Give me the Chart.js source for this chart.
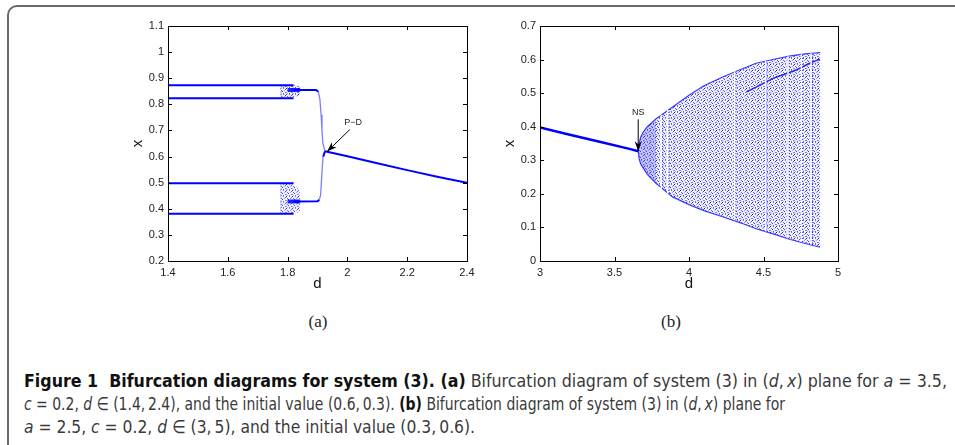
<!DOCTYPE html>
<html>
<head>
<meta charset="utf-8">
<script src="https://cdn.jsdelivr.net/npm/chart.js@4.4.0/dist/chart.umd.min.js"></script>
<style>
  body { margin: 0; width: 955px; height: 445px; overflow: hidden; background: #fff; position: relative; }
  #frame { position: absolute; left: 7px; top: 5px; width: 1000px; height: 520px; border: 2px solid #6a6a6a; border-radius: 10px; box-sizing: border-box; }
  canvas { position: absolute; }
  #chartA { left: 100px; top: 10px; }
  #chartB { left: 470px; top: 10px; }
  .sub { position: absolute; top: 312px; font: 17px "Liberation Serif", "DejaVu Serif", serif; color: #222; transform: translateX(-50%); }
  .cap { position: absolute; left: 24px; white-space: nowrap; font: 18px/18px "Liberation Sans Narrow", "DejaVu Sans Condensed", "Liberation Sans", sans-serif; color: #3a3a3a; transform-origin: 0 0; }
  .cap b { color: #111; }
</style>
</head>
<body>
<div id="frame"></div>
<canvas id="chartA" width="380" height="290"></canvas>
<canvas id="chartB" width="390" height="290"></canvas>
<div class="sub" style="left:318px">(a)</div>
<div class="sub" style="left:671px">(b)</div>
<div class="cap" data-w="923" style="top:372px"><b>Figure 1&nbsp;&nbsp;Bifurcation diagrams for system (3). (a)</b> Bifurcation diagram of system (3) in (<i>d</i>,&thinsp;<i>x</i>) plane for <i>a</i> = 3.5,</div>
<div class="cap" data-w="761" style="top:395px"><i>c</i> = 0.2, <i>d</i> ∈ (1.4,&thinsp;2.4), and the initial value (0.6,&thinsp;0.3). <b>(b)</b> Bifurcation diagram of system (3) in (<i>d</i>,&thinsp;<i>x</i>) plane for</div>
<div class="cap" data-w="451" style="top:418px"><i>a</i> = 2.5, <i>c</i> = 0.2, <i>d</i> ∈ (3,&thinsp;5), and the initial value (0.3,&thinsp;0.6).</div>
<script>
// ---- panel (a): d in (1.4, 2.4) ----
const aXTicks = [1.4, 1.6, 1.8, 2, 2.2, 2.4];
const aYTicks = [0.2, 0.3, 0.4, 0.5, 0.6, 0.7, 0.8, 0.9, 1, 1.1];
// period-4 orbit levels, flat from 1.4 to 1.82
const aP4Span = [1.4, 1.82];
const aP4Levels = [0.873, 0.823, 0.498, 0.381];
// period-2 branches merging at the P-D point
const aUpD = [1.82, 1.895, 1.903, 1.908, 1.912, 1.915, 1.918, 1.925];
const aUpX = [0.855, 0.855, 0.848, 0.82, 0.76, 0.70, 0.65, 0.62];
const aLoD = [1.82, 1.900, 1.906, 1.910, 1.913, 1.916, 1.919, 1.925];
const aLoX = [0.428, 0.429, 0.435, 0.45, 0.50, 0.56, 0.60, 0.62];
// fixed point after the P-D bifurcation
const aTailD = [1.925, 2.0, 2.1, 2.2, 2.3, 2.4];
const aTailX = [0.62, 0.601, 0.574, 0.548, 0.523, 0.5];
// scattered transition clouds near d = 1.8
const aCloudD = [1.776, 1.79, 1.81, 1.83, 1.842];
const aCloudUpTop = [0.873, 0.873, 0.873, 0.872, 0.868];
const aCloudUpBot = [0.823, 0.823, 0.825, 0.83, 0.84];
const aCloudLoTop = [0.498, 0.498, 0.496, 0.485, 0.46];
const aCloudLoBot = [0.381, 0.381, 0.381, 0.384, 0.39];
const aBandD = [1.80, 1.842];
const aBandLevels = [0.855, 0.428];
const aEdgeD = 1.778;

// ---- panel (b): d in (3, 5) ----
const bXTicks = [3, 3.5, 4, 4.5, 5];
const bYTicks = [0, 0.1, 0.2, 0.3, 0.4, 0.5, 0.6, 0.7];
const bLineD = [3, 3.2, 3.4, 3.6, 3.66];
const bLineX = [0.398, 0.376, 0.355, 0.334, 0.327];
// envelope of the invariant circle after the NS bifurcation
const bEnvD = [3.66, 3.665, 3.675, 3.69, 3.72, 3.78, 3.89, 4.0, 4.1, 4.23, 4.35, 4.45, 4.57, 4.68, 4.78, 4.88];
const bEnvUp = [0.327, 0.35, 0.368, 0.382, 0.40, 0.424, 0.459, 0.494, 0.522, 0.549, 0.571, 0.589, 0.601, 0.611, 0.617, 0.621];
const bEnvLo = [0.327, 0.305, 0.29, 0.279, 0.258, 0.231, 0.191, 0.168, 0.150, 0.131, 0.113, 0.096, 0.080, 0.064, 0.052, 0.041];
// denser region near the tip
const bTipD = [3.66, 3.665, 3.675, 3.69, 3.72, 3.78];
const bTipUp = [0.327, 0.35, 0.368, 0.382, 0.40, 0.424];
const bTipLo = [0.327, 0.305, 0.29, 0.279, 0.258, 0.231];
// periodic windows (gaps)
const bWinD = [3.815, 3.858, 4.307, 4.515, 4.665, 4.755, 4.82];
const bWinLo = [0.215, 0.20, 0.121, 0.088, 0.068, 0.057, 0.050];
const bWinHi = [0.435, 0.45, 0.565, 0.596, 0.610, 0.616, 0.619];
// inner dense curve
const bInnerD = [4.386, 4.45, 4.564, 4.65, 4.72, 4.81, 4.866, 4.88];
const bInnerX = [0.504, 0.518, 0.544, 0.558, 0.569, 0.589, 0.599, 0.60];

const BLUE = '#0000ff';
const pts = (ds, xs) => ds.map((d, i) => ({ x: d, y: xs[i] }));
const flat = (span, v) => span.map(d => ({ x: d, y: v }));
const vert = (d, lo, hi) => [{ x: d, y: lo }, { x: d, y: hi }];

// dotted texture for the scattered orbit points
function dots(alpha) {
  const c = document.createElement('canvas');
  c.width = 6; c.height = 6;
  const g = c.getContext('2d');
  g.fillStyle = `rgba(60,60,255,${0.07 * alpha})`;
  g.fillRect(0, 0, 6, 6);
  const cells = [[0, 0, .9], [3, 0, .5], [5, 1, .7], [1, 2, .6], [4, 2, .35], [2, 3, .8], [0, 4, .45], [5, 4, .55], [3, 5, .65], [1, 5, .3]];
  cells.forEach(([x, y, a]) => { g.fillStyle = `rgba(0,0,255,${a * alpha})`; g.fillRect(x, y, 1, 1); });
  return g.createPattern(c, 'repeat');
}

function line(data, extra) {
  return Object.assign({ data, showLine: true, pointRadius: 0, borderColor: BLUE, borderWidth: 2, tension: 0, fill: false }, extra || {});
}

// earlier datasets are painted first (at the back)
function ordered(sets) {
  sets.forEach((s, i) => { s.order = sets.length - i; });
  return sets;
}

const steepSeg = {
  borderColor: c => Math.abs(c.p1.y - c.p0.y) > 3 * Math.abs(c.p1.x - c.p0.x) ? 'rgba(40,40,255,0.6)' : BLUE,
  borderWidth: c => Math.abs(c.p1.y - c.p0.y) > 3 * Math.abs(c.p1.x - c.p0.x) ? 1.3 : 2
};

const aSets = ordered([
  line(pts(aCloudD, aCloudUpTop), { borderWidth: 0, fill: '+1', backgroundColor: dots(1) }),
  line(pts(aCloudD, aCloudUpBot), { borderWidth: 0 }),
  line(pts(aCloudD, aCloudLoTop), { borderWidth: 0, fill: '+1', backgroundColor: dots(0.9) }),
  line(pts(aCloudD, aCloudLoBot), { borderWidth: 0 }),
  line(vert(aEdgeD, aCloudUpBot[0], aCloudUpTop[0]), { borderWidth: 1, borderDash: [1, 2], borderColor: 'rgba(0,0,255,0.7)' }),
  line(vert(aEdgeD, aCloudLoBot[0], aCloudLoTop[0]), { borderWidth: 1, borderDash: [1, 2], borderColor: 'rgba(0,0,255,0.7)' }),
  ...aP4Levels.map(v => line(flat(aP4Span, v))),
  ...aBandLevels.map(v => line(flat(aBandD, v), { borderWidth: 4, borderColor: 'rgba(0,0,255,0.85)' })),
  line(pts(aUpD, aUpX), { segment: steepSeg }),
  line(pts(aLoD, aLoX), { segment: steepSeg }),
  line(pts(aTailD, aTailX))
]);

const bSets = ordered([
  line(pts(bEnvD, bEnvUp), { borderWidth: 1.2, borderColor: 'rgba(0,0,255,0.75)', fill: '+1', backgroundColor: dots(1) }),
  line(pts(bEnvD, bEnvLo), { borderWidth: 1.2, borderColor: 'rgba(0,0,255,0.75)' }),
  line(pts(bTipD, bTipUp), { borderWidth: 0, fill: '+1', backgroundColor: 'rgba(40,40,255,0.22)' }),
  line(pts(bTipD, bTipLo), { borderWidth: 0 }),
  line(pts(bInnerD, bInnerX), { borderWidth: 1.5, borderColor: 'rgba(0,0,230,0.8)' }),
  ...bWinD.map((d, i) => line(vert(d, bWinLo[i], bWinHi[i]), { borderColor: '#fff', borderWidth: 1.6 })),
  ...bWinD.map((d, i) => line(vert(d + 0.008, bWinLo[i], bWinHi[i]), { borderColor: 'rgba(0,0,230,0.85)', borderWidth: 1, borderDash: [1, 2] })),
  line(pts(bLineD, bLineX), { borderWidth: 2.5 })
]);

// MATLAB-like box with inward ticks, axis titles and arrow notes
const boxPlugin = {
  id: 'mbox',
  afterDraw(chart, args, opts) {
    const { ctx, chartArea: a, scales: { x, y } } = chart;
    ctx.save();
    ctx.strokeStyle = '#000';
    ctx.lineWidth = 1;
    ctx.setLineDash([]);
    ctx.strokeRect(Math.round(a.left) + 0.5, Math.round(a.top) + 0.5, Math.round(a.right - a.left), Math.round(a.bottom - a.top));
    ctx.beginPath();
    x.ticks.forEach(t => {
      const px = Math.round(x.getPixelForValue(t.value)) + 0.5;
      ctx.moveTo(px, a.bottom); ctx.lineTo(px, a.bottom - 4);
      ctx.moveTo(px, a.top); ctx.lineTo(px, a.top + 4);
    });
    y.ticks.forEach(t => {
      const py = Math.round(y.getPixelForValue(t.value)) + 0.5;
      ctx.moveTo(a.left, py); ctx.lineTo(a.left + 4, py);
      ctx.moveTo(a.right, py); ctx.lineTo(a.right - 4, py);
    });
    ctx.stroke();

    ctx.fillStyle = '#111';
    ctx.font = '15px "Liberation Sans", Arial, sans-serif';
    ctx.textAlign = 'center';
    ctx.textBaseline = 'middle';
    ctx.fillText(opts.xTitle, (a.left + a.right) / 2, a.bottom + 23);
    ctx.save();
    ctx.translate(a.left - 30, (a.top + a.bottom) / 2);
    ctx.rotate(-Math.PI / 2);
    ctx.fillText(opts.yTitle, 0, 0);
    ctx.restore();

    opts.notes.forEach(n => {
      ctx.font = '9px "Liberation Sans", Arial, sans-serif';
      ctx.fillStyle = '#222';
      ctx.fillText(n.text, x.getPixelForValue(n.at[0]), y.getPixelForValue(n.at[1]));
      const x0 = x.getPixelForValue(n.from[0]), y0 = y.getPixelForValue(n.from[1]);
      const x1 = x.getPixelForValue(n.to[0]), y1 = y.getPixelForValue(n.to[1]);
      const ang = Math.atan2(y1 - y0, x1 - x0);
      ctx.strokeStyle = '#000';
      ctx.lineWidth = 1;
      ctx.beginPath(); ctx.moveTo(x0, y0); ctx.lineTo(x1, y1); ctx.stroke();
      ctx.fillStyle = '#000';
      ctx.beginPath();
      ctx.moveTo(x1, y1);
      ctx.lineTo(x1 - 10 * Math.cos(ang) + 3.5 * Math.sin(ang), y1 - 10 * Math.sin(ang) - 3.5 * Math.cos(ang));
      ctx.lineTo(x1 - 7 * Math.cos(ang), y1 - 7 * Math.sin(ang));
      ctx.lineTo(x1 - 10 * Math.cos(ang) - 3.5 * Math.sin(ang), y1 - 10 * Math.sin(ang) + 3.5 * Math.cos(ang));
      ctx.closePath();
      ctx.fill();
    });
    ctx.restore();
  }
};

const tickFont = { family: '"Liberation Sans", Arial, sans-serif', size: 11 };
const fmt = v => String(parseFloat(Number(v).toFixed(2)));

function makeChart(id, datasets, xr, yr, xTicks, yTicks, leftW, rightPad, notes) {
  return new Chart(document.getElementById(id), {
    type: 'scatter',
    data: { datasets },
    plugins: [boxPlugin],
    options: {
      responsive: false,
      animation: false,
      events: [],
      layout: { padding: { top: 16, right: rightPad, left: 0, bottom: 0 } },
      plugins: {
        legend: { display: false },
        tooltip: { enabled: false },
        mbox: { xTitle: 'd', yTitle: 'x', notes }
      },
      scales: {
        x: {
          type: 'linear', min: xr[0], max: xr[1],
          grid: { display: false, drawTicks: false }, border: { display: false },
          afterBuildTicks: s => { s.ticks = xTicks.map(v => ({ value: v })); },
          afterFit: s => { s.height = 39; },
          ticks: { color: '#222', font: tickFont, padding: 5, maxRotation: 0, autoSkip: false, callback: fmt }
        },
        y: {
          type: 'linear', min: yr[0], max: yr[1],
          grid: { display: false, drawTicks: false }, border: { display: false },
          afterBuildTicks: s => { s.ticks = yTicks.map(v => ({ value: v })); },
          afterFit: s => { s.width = leftW; },
          ticks: { color: '#222', font: tickFont, padding: 4, autoSkip: false, callback: fmt }
        }
      }
    }
  });
}

makeChart('chartA', aSets, [1.4, 2.4], [0.2, 1.1], aXTicks, aYTicks, 68, 13,
  [{ text: 'P\u2212D', at: [2.019, 0.732], from: [2.008, 0.703], to: [1.932, 0.619] }]);
makeChart('chartB', bSets, [3, 5], [0, 0.7], bXTicks, bYTicks, 70, 22,
  [{ text: 'NS', at: [3.659, 0.441], from: [3.659, 0.422], to: [3.659, 0.327] }]);

// fit caption lines to the measured widths
document.querySelectorAll('.cap').forEach(el => {
  const w = el.getBoundingClientRect().width;
  el.style.transform = `scaleX(${(+el.dataset.w / w).toFixed(4)})`;
});
</script>
</body>
</html>
